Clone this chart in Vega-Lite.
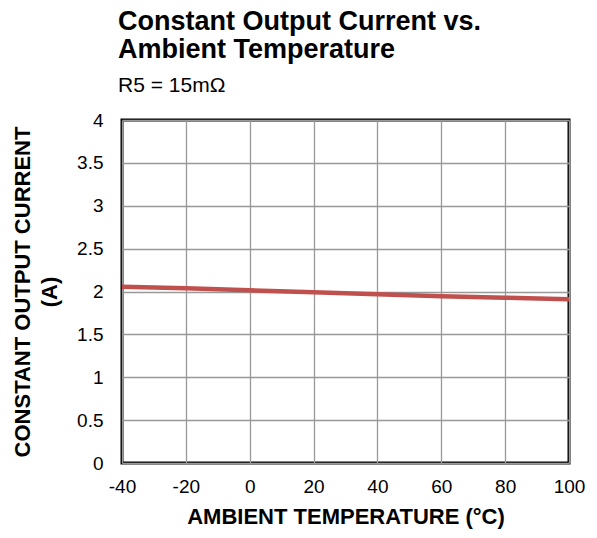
{
  "$schema": "https://vega.github.io/schema/vega-lite/v6.json",
  "width": 447,
  "height": 343,
  "autosize": "none",
  "padding": {"left": 122, "top": 120, "right": 28, "bottom": 75},
  "background": "white",
  "title": {
    "text": ["Constant Output Current vs.", "Ambient Temperature"],
    "subtitle": "R5 = 15mΩ",
    "anchor": "start",
    "frame": "group",
    "font": "Liberation Sans",
    "fontSize": 27,
    "fontWeight": "bold",
    "lineHeight": 28,
    "color": "black",
    "subtitleFont": "Liberation Sans",
    "subtitleFontSize": 21,
    "subtitleColor": "black",
    "subtitlePadding": 11,
    "offset": 14,
    "dx": -4
  },
  "config": {
    "view": {"stroke": "black", "strokeWidth": 3},
    "axis": {
      "labelFont": "Liberation Sans",
      "labelFontSize": 19,
      "labelColor": "black",
      "labelFlush": false,
      "labelExpr": "'' + datum.value",
      "titleFont": "Liberation Sans",
      "titleFontWeight": "bold",
      "titleColor": "black",
      "grid": true,
      "gridColor": "#999999",
      "gridWidth": 1.3,
      "ticks": false,
      "domain": false
    }
  },
  "data": {
    "values": [
      {"t": -40, "i": 2.056},
      {"t": -20, "i": 2.037},
      {"t": 0, "i": 2.014},
      {"t": 20, "i": 1.99},
      {"t": 40, "i": 1.967},
      {"t": 60, "i": 1.944},
      {"t": 80, "i": 1.928},
      {"t": 100, "i": 1.909}
    ]
  },
  "mark": {"type": "line", "color": "#C0504D", "strokeWidth": 4.5, "clip": true},
  "encoding": {
    "x": {
      "field": "t",
      "type": "quantitative",
      "scale": {"domain": [-40, 100], "nice": false},
      "axis": {"values": [-40, -20, 0, 20, 40, 60, 80, 100], "labelPadding": 14, "title": "AMBIENT TEMPERATURE (°C)", "titleFontSize": 22, "titlePadding": 10}
    },
    "y": {
      "field": "i",
      "type": "quantitative",
      "scale": {"domain": [0, 4], "nice": false},
      "axis": {"values": [0, 0.5, 1, 1.5, 2, 2.5, 3, 3.5, 4], "labelPadding": 19, "title": ["CONSTANT OUTPUT CURRENT", "(A)"], "titleFontSize": 22, "titleLineHeight": 27, "titlePadding": 15}
    }
  }
}
